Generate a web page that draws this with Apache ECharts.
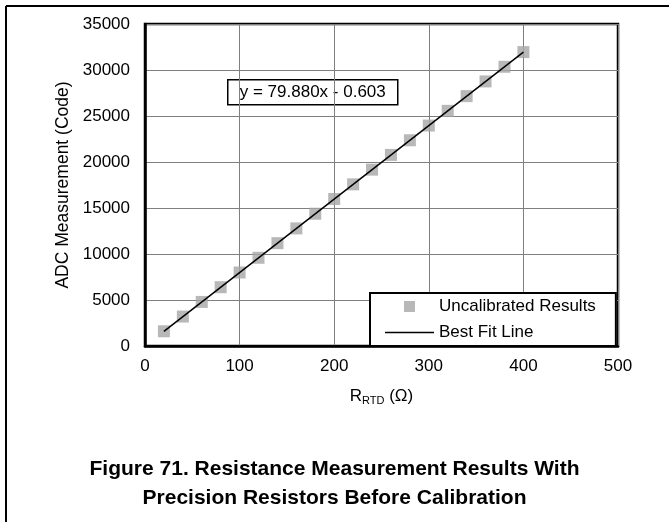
<!DOCTYPE html>
<html>
<head>
<meta charset="utf-8">
<script src="https://cdn.jsdelivr.net/npm/echarts@6/dist/echarts.min.js"></script>
<style>
html,body{margin:0;padding:0;background:#fff;}
#chart{width:669px;height:522px;}
</style>
</head>
<body>
<div id="chart"></div>
<script>
// Data
var resistance = [20, 40, 60, 80, 100, 120, 140, 160, 180, 200, 220, 240, 260, 280, 300, 320, 340, 360, 380, 400];
var adcCode = [1600, 3200, 4790, 6390, 7990, 9590, 11180, 12780, 14380, 15980, 17570, 19170, 20770, 22360, 23960, 25560, 27160, 28760, 30350, 31950];
var fitX = [20, 400];
var fitY = [1597, 31951];
var xTicks = [0, 100, 200, 300, 400, 500];
var yTicks = [0, 5000, 10000, 15000, 20000, 25000, 30000, 35000];
var seriesNames = ['Uncalibrated Results', 'Best Fit Line'];
var equationText = 'y = 79.880x - 0.603';
var titleLines = ['Figure 71. Resistance Measurement Results With', 'Precision Resistors Before Calibration'];

var FONT = '"Liberation Sans", Arial, sans-serif';
var chart = echarts.init(document.getElementById('chart'), null, {renderer: 'canvas'});

var scatterData = resistance.map(function (x, i) { return [x, adcCode[i]]; });
var fitData = fitX.map(function (x, i) { return [x, fitY[i]]; });

chart.setOption({
  animation: false,
  backgroundColor: '#fff',
  textStyle: {fontFamily: FONT},
  grid: {
    left: 145, right: 51, top: 24, bottom: 176,
    show: true, borderColor: '#000', borderWidth: 2.5, backgroundColor: 'transparent'
  },
  xAxis: {
    type: 'value', min: xTicks[0], max: xTicks[xTicks.length - 1], interval: 100,
    axisLine: {show: true, lineStyle: {color: '#000', width: 2.5}},
    axisTick: {show: false},
    axisLabel: {color: '#000', fontSize: 17, fontFamily: FONT, margin: 12, formatter: function (v) { return String(v); }},
    splitLine: {show: true, lineStyle: {color: '#7f7f7f', width: 1}},
    name: '{r|R}{s|RTD}{r| (Ω)}',
    nameLocation: 'middle', nameGap: 41,
    nameTextStyle: {
      rich: {
        r: {fontSize: 17, fontFamily: FONT, color: '#000'},
        s: {fontSize: 11, fontFamily: FONT, color: '#000', padding: [8, 0, 0, 0]}
      }
    }
  },
  yAxis: {
    type: 'value', min: yTicks[0], max: yTicks[yTicks.length - 1], interval: 5000,
    axisLine: {show: true, lineStyle: {color: '#000', width: 2.5}},
    axisTick: {show: false},
    axisLabel: {color: '#000', fontSize: 17, fontFamily: FONT, margin: 15, formatter: function (v) { return String(v); }},
    splitLine: {show: true, lineStyle: {color: '#7f7f7f', width: 1}},
    name: 'ADC Measurement (Code)',
    nameLocation: 'middle', nameGap: 69,
    nameTextStyle: {fontSize: 17.5, fontFamily: FONT, color: '#000'}
  },
  legend: {
    orient: 'vertical',
    left: 370, top: 293,
    padding: [5, 20, 5, 15],
    itemGap: 9,
    itemWidth: 49, itemHeight: 11,
    symbolKeepAspect: true,
    backgroundColor: '#fff',
    borderColor: '#000', borderWidth: 2,
    textStyle: {fontSize: 17, fontFamily: FONT, color: '#000'},
    data: [
      {name: seriesNames[0], icon: 'path://M0,0L10,0L10,10L0,10Z', itemStyle: {color: '#a6a6a6'}},
      {name: seriesNames[1], icon: 'path://M0,0L98,0L98,3L0,3Z', itemStyle: {color: '#000'}}
    ]
  },
  series: [
    {
      name: seriesNames[0], type: 'scatter', symbol: 'rect', symbolSize: 12,
      itemStyle: {color: '#a6a6a6'},
      data: scatterData, z: 2
    },
    {
      name: seriesNames[1], type: 'line', symbol: 'none', showSymbol: false,
      lineStyle: {color: '#000', width: 1.5},
      itemStyle: {color: '#000'},
      data: fitData, z: 3
    }
  ],
  graphic: [
    {type: 'line', shape: {x1: 6, y1: 6, x2: 669, y2: 6}, style: {stroke: '#000', lineWidth: 2}},
    {type: 'line', shape: {x1: 6, y1: 6, x2: 6, y2: 522}, style: {stroke: '#000', lineWidth: 2}},
    {
      type: 'group', left: 227, top: 79, z: 10,
      children: [
        {type: 'rect', shape: {x: 0, y: 0, width: 170, height: 25}, style: {fill: '#fff', stroke: '#000', lineWidth: 1.5}},
        {type: 'text', x: 85, y: 13, style: {text: equationText, font: '17px ' + FONT, fill: '#000', textAlign: 'center', textVerticalAlign: 'middle'}}
      ]
    },
    {type: 'text', left: 'center', top: 459, style: {text: titleLines[0], font: 'bold 21px ' + FONT, fill: '#000', textAlign: 'center'}},
    {type: 'text', left: 'center', top: 488, style: {text: titleLines[1], font: 'bold 21px ' + FONT, fill: '#000', textAlign: 'center'}}
  ]
});
</script>
</body>
</html>
